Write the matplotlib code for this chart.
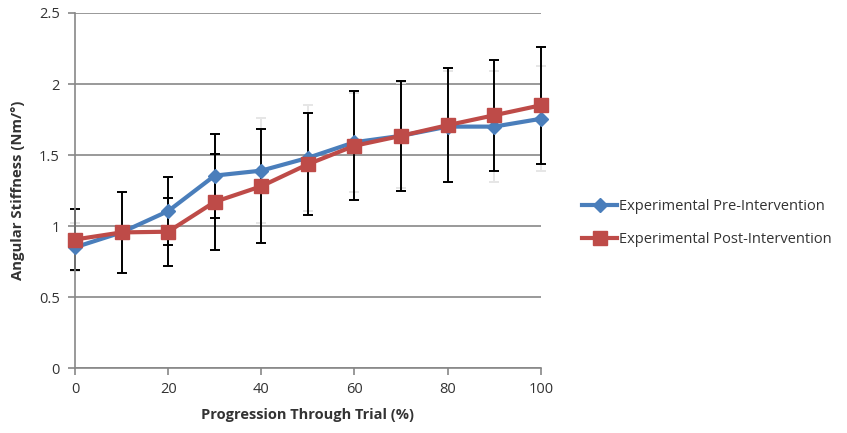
import matplotlib.pyplot as plt

# data
progress = [0, 10, 20, 30, 40, 50, 60, 70, 80, 90, 100]
pre = [0.85, 0.955, 1.105, 1.355, 1.39, 1.48, 1.59, 1.635, 1.70, 1.70, 1.755]
post = [0.905, 0.955, 0.96, 1.17, 1.28, 1.435, 1.565, 1.635, 1.71, 1.78, 1.85]
pre_err = [0.17, 0.285, 0.24, 0.295, 0.37, 0.375, 0.35, 0.37, 0.39, 0.39, 0.37]
post_err = [0.215, 0.285, 0.24, 0.34, 0.40, 0.36, 0.385, 0.385, 0.40, 0.39, 0.41]

plt.rcParams['font.family'] = ['Open Sans', 'DejaVu Sans']

fig = plt.figure(figsize=(8.47, 4.33), dpi=100)
ax = fig.add_axes([0.0885, 0.150, 0.550, 0.820])

# pre-intervention error bars come out pale in the original, except at 20 and 30 %
dark = [p in (20, 30) for p in progress]
for want_dark, col in [(False, '#e6e6e6'), (True, 'black')]:
    xs = [p for p, d in zip(progress, dark) if d == want_dark]
    ys = [v for v, d in zip(pre, dark) if d == want_dark]
    es = [e for e, d in zip(pre_err, dark) if d == want_dark]
    ax.errorbar(xs, ys, yerr=es, fmt='none', ecolor=col, elinewidth=1.4,
                capsize=3.5, capthick=1.4, zorder=2, clip_on=False)

ax.errorbar(progress, post, yerr=post_err, fmt='none', ecolor='black',
            elinewidth=1.4, capsize=3.5, capthick=1.4, zorder=2.5, clip_on=False)

ax.plot(progress, pre, color='#4A7EBB', lw=3, marker='D', markersize=7,
        label='Experimental Pre-Intervention', zorder=3, clip_on=False)
ax.plot(progress, post, color='#BE4B48', lw=3, marker='s', markersize=10,
        label='Experimental Post-Intervention', zorder=4, clip_on=False)

ax.set_xlim(0, 100)
ax.set_ylim(0, 2.5)
ax.set_xticks([0, 20, 40, 60, 80, 100])
ax.set_yticks([0, 0.5, 1, 1.5, 2, 2.5])
ax.set_yticklabels(['0', '0.5', '1', '1.5', '2', '2.5'])
ax.grid(axis='y', color='#878787', lw=1.2)
ax.set_axisbelow(True)

for side in ['top', 'right']:
    ax.spines[side].set_visible(False)
ax.spines['left'].set_color('#878787')
ax.spines['bottom'].set_color('#878787')
ax.spines['left'].set_linewidth(1.2)
ax.spines['bottom'].set_linewidth(1.2)
ax.tick_params(axis='both', colors='#878787', labelcolor='#333333',
               labelsize=10.5, length=5, width=1.2)
ax.tick_params(axis='y', pad=6)
ax.tick_params(axis='x', pad=5)

ax.set_xlabel('Progression Through Trial (%)', fontsize=10.5,
              fontweight='bold', color='#333333', labelpad=8)
ax.set_ylabel('Angular Stiffness (Nm/°)', fontsize=10.7,
              fontweight='bold', color='#333333', labelpad=10)

fig.legend(loc='center left', bbox_to_anchor=(0.672, 0.485), frameon=False,
           fontsize=10.5, handlelength=2.4, labelspacing=1.2,
           handletextpad=0.1, labelcolor='#333333')

fig.savefig('out.png', dpi=100)
